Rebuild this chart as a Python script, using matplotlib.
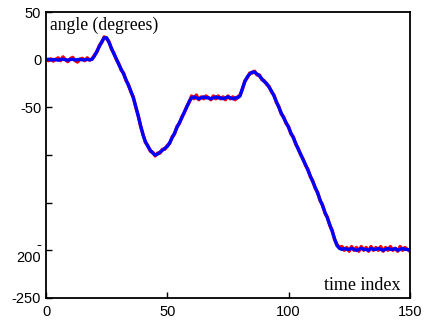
import matplotlib.pyplot as plt
import numpy as np

# time index 0..150
t = np.arange(0, 151)

angle_blue = [0, 0.5, -0.3, 0.2, 0, -0.5, 0.3, 0.6, 0, -0.4, 0.2, 0.5, -0.3, 0, 0.4, -0.2, 0, 0.3, -0.1, 0.5,
              4, 9, 14, 19, 23, 23, 18, 12, 6, 1,
              -5, -10, -15, -21, -27, -33, -40, -49, -59, -69,
              -79, -86, -91, -95, -98, -100, -99, -97, -95, -93,
              -91, -87, -82, -77, -71, -66, -61, -55, -50, -44,
              -40, -39, -40, -41, -40, -39, -40, -40, -41, -40,
              -39, -40, -40, -41, -40, -39, -40, -41, -40, -40,
              -38, -30, -23, -18, -15, -13, -13, -15, -17, -20,
              -23, -25, -29, -33, -38, -44, -50, -56, -61, -66,
              -71, -77, -82, -88, -94, -99, -105, -110, -116, -122,
              -128, -134, -140, -147, -153, -160, -166, -173, -180, -188,
              -195, -198, -199, -198, -199, -199, -198, -199, -200, -199,
              -198, -199, -199, -200, -198, -199, -199, -198, -199, -200,
              -199, -198, -199, -199, -198, -200, -199, -198, -199, -199, -200]

angle_red = [0, -1, 1, -1.5, 0.5, 2, -1, 3, 0, -2, 1, 2.5, -1, -2.5, 0.5, 1.5, -1, 2, -0.5, 1,
             5, 8, 15, 18, 24, 22, 19, 11, 7, 0,
             -4, -11, -14, -22, -26, -34, -39, -50, -58, -70,
             -78, -87, -90, -96, -97, -101, -98, -98, -94, -94,
             -90, -88, -81, -78, -70, -67, -60, -56, -49, -45,
             -38, -41, -37, -42, -39, -41, -38, -40, -42, -38,
             -41, -38, -41, -39, -42, -38, -41, -39, -42, -39,
             -37, -31, -22, -19, -14, -14, -12, -16, -16, -21,
             -22, -26, -28, -34, -37, -45, -49, -57, -60, -67,
             -70, -78, -81, -89, -93, -100, -104, -111, -115, -123,
             -127, -135, -139, -148, -152, -161, -165, -174, -179, -189,
             -194, -197, -196, -200, -197, -201, -196, -200, -197, -201,
             -196, -200, -197, -201, -196, -200, -197, -200, -196, -201,
             -197, -200, -196, -200, -198, -201, -196, -200, -197, -199, -201]

yticks = [50, 0, -50, -100, -150, -200, -250]
ytick_labels = ['50', '0', '-50', '', '', '-\n200', '-250']
xticks = [0, 50, 100, 150]

fig = plt.figure(figsize=(4.3, 3.26), dpi=100)
ax = fig.add_axes([0.107, 0.086, 0.846, 0.877])

ax.plot(t, angle_red, color='red', lw=2.4)
ax.plot(t, angle_blue, color='blue', lw=2.4)

ax.set_xlim(0, 150)
ax.set_ylim(-250, 50)
ax.set_xticks(xticks)
ax.set_xticklabels([str(x) for x in xticks], fontfamily='Liberation Sans', fontsize=10.5)
ax.set_yticks(yticks)
ax.set_yticklabels(ytick_labels, fontfamily='Liberation Sans', fontsize=10.5, linespacing=0.9)
ax.tick_params(direction='in', length=4, width=1)
ax.tick_params(axis='x', pad=5)
for s in ax.spines.values():
    s.set_linewidth(1.3)

ax.text(0.012, 0.985, 'angle (degrees)', transform=ax.transAxes, ha='left', va='top',
        fontfamily='Liberation Serif', fontsize=12.7)
ax.text(0.975, 0.015, 'time index', transform=ax.transAxes, ha='right', va='bottom',
        fontfamily='Liberation Serif', fontsize=13)

fig.savefig('out.png', dpi=100)
